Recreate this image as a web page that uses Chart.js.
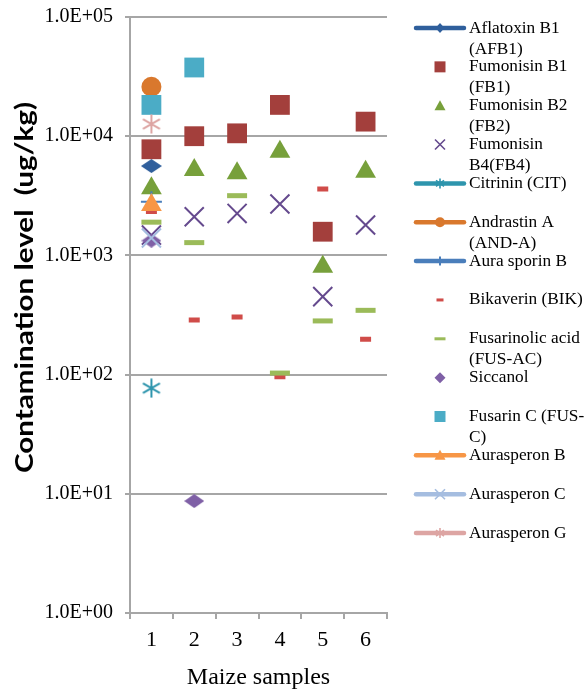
<!DOCTYPE html>
<html>
<head>
<meta charset="utf-8">
<script src="https://cdn.jsdelivr.net/npm/chart.js@4.4.0/dist/chart.umd.min.js"></script>
<style>
html,body{margin:0;padding:0;background:#fff;}
#wrap{width:587px;height:692px;position:relative;}
canvas{display:block;}
</style>
</head>
<body>
<div id="wrap"><canvas id="c" width="587" height="692"></canvas></div>
<script>
// ---- data ----
const samples = ['1', '2', '3', '4', '5', '6'];
const yTickValues = [1, 10, 100, 1000, 10000, 100000];
const yTickLabels = ['1.0E+00', '1.0E+01', '1.0E+02', '1.0E+03', '1.0E+04', '1.0E+05'];

const afb1      = [5620, null, null, null, null, null];
const fb1       = [7770, 10000, 10570, 18300, 1580, 13250];
const fb2       = [3660, 5200, 4890, 7420, 803, 5040];
const fb4       = [1480, 2110, 2250, 2700, 451, 1800];
const cit       = [77, null, null, null, null, null];
const andA      = [26000, null, null, null, null, null];
const auraB     = [2820, null, null, null, null, null];
const bik       = [2330, 287, 304, 96, 3600, 198];
const fusAc     = [1900, 1280, 3170, 103, 282, 346];
const siccanol  = [1330, 8.7, null, null, null, null];
const fusC      = [18300, 37700, null, null, null, null];
const aurasB    = [2650, null, null, null, null, null];
const aurasC    = [1400, null, null, null, null, null];
const aurasG    = [12650, null, null, null, null, null];

const seriesNames = [
  'Aflatoxin B1\n(AFB1)', 'Fumonisin B1\n(FB1)', 'Fumonisin B2\n(FB2)', 'Fumonisin\nB4(FB4)',
  'Citrinin (CIT)', 'Andrastin A\n(AND-A)', 'Aura sporin B', 'Bikaverin (BIK)',
  'Fusarinolic acid\n(FUS-AC)', 'Siccanol', 'Fusarin C (FUS-\nC)', 'Aurasperon B',
  'Aurasperon C', 'Aurasperon G'
];
const xTitle = 'Maize samples';
const yTitle = 'Contamination level  (ug/kg)';

// ---- styles ----
const serif = "'Times New Roman', 'Liberation Serif', serif";
const gridColor = '#A6A6A6';

function mkCanvas(w, h, draw) {
  const c = document.createElement('canvas');
  c.width = w; c.height = h;
  draw(c.getContext('2d'), w, h);
  return c;
}
function diamondImg(w, h, color) {
  return mkCanvas(w, h, (x) => {
    x.fillStyle = color; x.beginPath();
    x.moveTo(w / 2, 0); x.lineTo(w, h / 2); x.lineTo(w / 2, h); x.lineTo(0, h / 2);
    x.closePath(); x.fill();
  });
}
function asteriskImg(s, color, lw) {
  return mkCanvas(s, s, (x) => {
    x.strokeStyle = color; x.lineWidth = lw;
    const m = 1.5, f = s * 0.18;
    x.beginPath();
    x.moveTo(m, m + f); x.lineTo(s - m, s - m - f);
    x.moveTo(s - m, m + f); x.lineTo(m, s - m - f);
    x.moveTo(s / 2, 0.5); x.lineTo(s / 2, s - 0.5);
    x.stroke();
  });
}

const C = {
  afb1: '#2F5F9C', fb1: '#A33F3C', fb2: '#77A03B', fb4: '#654A8E', cit: '#2E95AD',
  andA: '#D9782D', auraB: '#4A7EBB', bik: '#D04C49', fusAc: '#9BBB59', sic: '#7F60A6',
  fusC: '#4BACC6', aurasB: '#F79646', aurasC: '#A5BDE0', aurasG: '#DDA5A3'
};

// [data, color, chart point style, radius, borderWidth, legend kind, legend has line]
const seriesDefs = [
  [afb1, C.afb1, diamondImg(21, 14, C.afb1), 10, 0, 'diamond', true],
  [fb1, C.fb1, 'rect', 14, 0, 'square', false],
  [fb2, C.fb2, 'triangle', 12, 0, 'triangle', false],
  [fb4, C.fb4, 'crossRot', 13.5, 2, 'x', false],
  [cit, C.cit, asteriskImg(20, C.cit, 2), 10, 0, 'asterisk', true],
  [andA, C.andA, 'circle', 10, 0, 'circle', true],
  [auraB, C.auraB, 'cross', 10.5, 2, 'plus', true],
  [bik, C.bik, 'line', 5.5, 5, 'dashS', false],
  [fusAc, C.fusAc, 'line', 10, 5, 'dashL', false],
  [siccanol, C.sic, diamondImg(20, 14, C.sic), 10, 0, 'diamondL', false],
  [fusC, C.fusC, 'rect', 14, 0, 'square', false],
  [aurasB, C.aurasB, 'triangle', 12, 0, 'triangle', true],
  [aurasC, C.aurasC, 'crossRot', 13.5, 2, 'x', true],
  [aurasG, C.aurasG, asteriskImg(20, C.aurasG, 2), 10, 0, 'asterisk', true]
];

const datasets = seriesDefs.map((d, i) => ({
  label: seriesNames[i],
  data: d[0],
  showLine: false,
  borderColor: d[1],
  backgroundColor: d[1],
  pointStyle: d[2],
  pointRadius: d[3],
  pointBorderWidth: d[4],
  pointBackgroundColor: d[1],
  pointBorderColor: d[1],
  order: -i,
  legendKind: d[5],
  legendLine: d[6]
}));

function drawMark(ctx, kind, x, y, color) {
  ctx.save();
  ctx.fillStyle = color; ctx.strokeStyle = color; ctx.lineWidth = 1.6;
  ctx.beginPath();
  switch (kind) {
    case 'diamond':
      ctx.moveTo(x, y - 5); ctx.lineTo(x + 4.5, y); ctx.lineTo(x, y + 5); ctx.lineTo(x - 4.5, y); ctx.closePath(); ctx.fill(); break;
    case 'diamondL':
      ctx.moveTo(x, y - 5.5); ctx.lineTo(x + 5.5, y); ctx.lineTo(x, y + 5.5); ctx.lineTo(x - 5.5, y); ctx.closePath(); ctx.fill(); break;
    case 'square':
      ctx.rect(x - 5.5, y - 5.5, 11, 11); ctx.fill(); break;
    case 'triangle':
      ctx.moveTo(x, y - 5.5); ctx.lineTo(x + 5.5, y + 4.5); ctx.lineTo(x - 5.5, y + 4.5); ctx.closePath(); ctx.fill(); break;
    case 'x':
      ctx.moveTo(x - 5, y - 5); ctx.lineTo(x + 5, y + 5); ctx.moveTo(x + 5, y - 5); ctx.lineTo(x - 5, y + 5); ctx.stroke(); break;
    case 'asterisk':
      ctx.moveTo(x - 4, y - 3); ctx.lineTo(x + 4, y + 3); ctx.moveTo(x + 4, y - 3); ctx.lineTo(x - 4, y + 3);
      ctx.moveTo(x, y - 5); ctx.lineTo(x, y + 5); ctx.stroke(); break;
    case 'circle':
      ctx.arc(x, y, 5, 0, Math.PI * 2); ctx.fill(); break;
    case 'plus':
      ctx.lineWidth = 2; ctx.moveTo(x, y - 4.5); ctx.lineTo(x, y + 4.5); ctx.stroke(); break;
    case 'dashS':
      ctx.fillRect(x - 3.5, y - 1.5, 7, 3); break;
    case 'dashL':
      ctx.fillRect(x - 5.5, y - 1.5, 11, 3); break;
  }
  ctx.restore();
}

const sidePlugin = {
  id: 'sideLegend',
  afterDraw(chart) {
    const ctx = chart.ctx;
    ctx.save();
    // legend
    chart.data.datasets.forEach((ds, i) => {
      const y0 = 28 + i * 38.85;
      const color = ds.borderColor;
      if (ds.legendLine) {
        ctx.save();
        ctx.strokeStyle = color; ctx.lineWidth = 4.5; ctx.lineCap = 'round';
        ctx.beginPath(); ctx.moveTo(416, y0); ctx.lineTo(464, y0); ctx.stroke();
        ctx.restore();
      }
      drawMark(ctx, ds.legendKind, 440, y0, color);
      ctx.fillStyle = '#000';
      ctx.font = '17.3px ' + serif;
      ctx.textAlign = 'left';
      ctx.textBaseline = 'middle';
      ds.label.split('\n').forEach((line, k) => ctx.fillText(line, 469, y0 + k * 21));
    });
    // y axis title
    ctx.save();
    ctx.translate(25, 287.5);
    ctx.rotate(-Math.PI / 2);
    ctx.font = "bold 25px Lato, 'Open Sans', sans-serif";
    const w = ctx.measureText(yTitle).width;
    ctx.scale(371 / w, 1);
    ctx.textAlign = 'center';
    ctx.textBaseline = 'middle';
    ctx.fillStyle = '#000';
    ctx.fillText(yTitle, 0, 0);
    ctx.restore();
    ctx.restore();
  }
};

new Chart(document.getElementById('c'), {
  type: 'line',
  data: { labels: samples, datasets },
  options: {
    responsive: false,
    animation: false,
    events: [],
    layout: { padding: { left: 0, right: 200, top: 17, bottom: 0 } },
    plugins: { legend: { display: false }, tooltip: { enabled: false } },
    scales: {
      x: {
        type: 'category',
        offset: true,
        grid: { display: true, drawOnChartArea: false, drawTicks: true, tickLength: 6, offset: true, color: gridColor, lineWidth: 2 },
        border: { display: true, color: gridColor, width: 2 },
        ticks: { font: { family: serif, size: 22 }, color: '#000', padding: 8, maxRotation: 0 },
        title: { display: true, text: xTitle, font: { family: serif, size: 24 }, color: '#000', padding: { top: 0, bottom: 0 } },
        afterFit: (ax) => { ax.height = 79; ax.paddingLeft = 0; ax.paddingRight = 0; }
      },
      y: {
        type: 'logarithmic',
        min: 1,
        max: 100000,
        afterBuildTicks: (ax) => { ax.ticks = yTickValues.map(v => ({ value: v })); },
        afterFit: (ax) => { ax.width = 130; ax.paddingTop = 0; ax.paddingBottom = 0; },
        ticks: {
          autoSkip: false,
          font: { family: serif, size: 20 },
          color: '#000',
          padding: 12,
          callback: (v, idx) => yTickLabels[idx]
        },
        grid: { color: gridColor, lineWidth: 2, tickLength: 5, drawTicks: true },
        border: { display: true, color: gridColor, width: 2 }
      }
    }
  },
  plugins: [sidePlugin]
});
</script>
</body>
</html>
